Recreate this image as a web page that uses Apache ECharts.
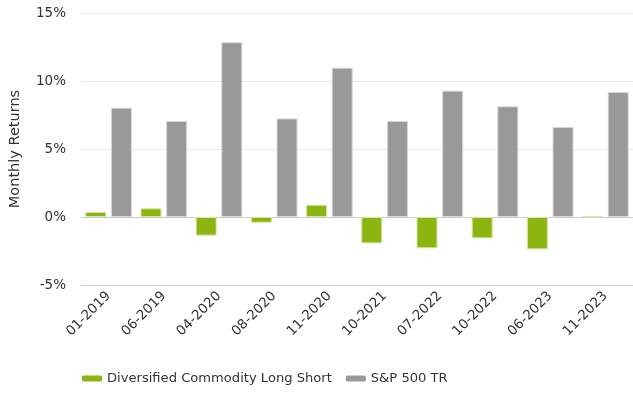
<!DOCTYPE html>
<html><head><meta charset="utf-8">
<script src="https://cdn.jsdelivr.net/npm/echarts@6/dist/echarts.min.js"></script>
<style>html,body{margin:0;padding:0;background:#fff}#c{width:633px;height:394px}</style>
</head><body><div id="c"></div>
<script>
var categories = ['01-2019','06-2019','04-2020','08-2020','11-2020','10-2021','07-2022','10-2022','06-2023','11-2023'];
var commodity = [0.37, 0.64, -1.37, -0.42, 0.90, -1.94, -2.30, -1.57, -2.38, 0.05];
var sp500 = [8.04, 7.06, 12.85, 7.25, 10.98, 7.06, 9.29, 8.14, 6.62, 9.19];
var seriesNames = ['Diversified Commodity Long Short', 'S&P 500 TR'];
var font = 'DejaVu Sans, Verdana, sans-serif';
var chart = echarts.init(document.getElementById('c'));
chart.setOption({
  animation: false,
  textStyle: {fontFamily: font},
  grid: {left: 80, right: 0, top: 13, bottom: 109},
  legend: {
    left: 77, top: 367, itemWidth: 20, itemHeight: 6, itemGap: 14,
    textStyle: {fontFamily: font, fontSize: 13.1, color: '#333'},
    itemStyle: {borderWidth: 0},
    data: seriesNames
  },
  xAxis: {
    type: 'category', data: categories,
    axisLine: {lineStyle: {color: '#cccccc'}},
    axisTick: {alignWithLabel: true, length: 6, lineStyle: {color: '#cccccc'}},
    axisLabel: {rotate: 45, fontSize: 13.5, color: '#333', margin: 9, fontFamily: font}
  },
  yAxis: {
    type: 'value', min: -5, max: 15, interval: 5,
    name: 'Monthly Returns', nameLocation: 'middle', nameGap: 58,
    nameTextStyle: {fontSize: 14.5, color: '#333', fontFamily: font},
    axisLabel: {formatter: '{value}%', fontSize: 13.5, color: '#333', margin: 15, fontFamily: font},
    splitLine: {lineStyle: {color: ['#cccccc', '#cccccc', '#ebebeb', '#ebebeb', '#ebebeb']}}
  },
  series: [
    {name: seriesNames[0], type: 'bar', data: commodity, barWidth: 21, barGap: '22%',
     itemStyle: {color: '#8cb512', borderColor: '#d6e6a6', borderWidth: 1}},
    {name: seriesNames[1], type: 'bar', data: sp500, barWidth: 21,
     itemStyle: {color: '#999999', borderColor: '#d8d8d8', borderWidth: 1}}
  ]
});
</script></body></html>
